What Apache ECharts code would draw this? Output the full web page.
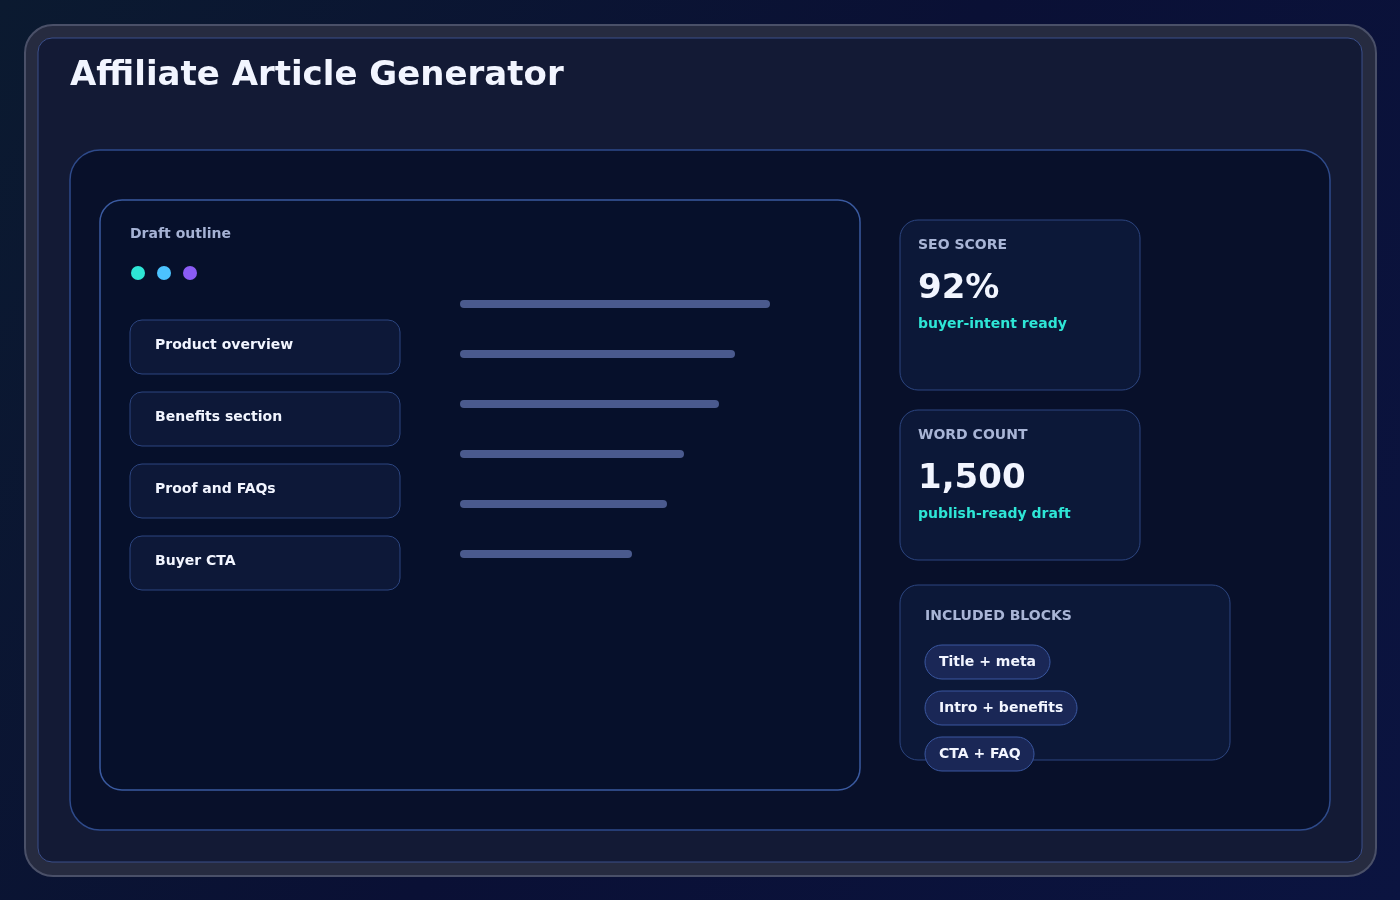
<!DOCTYPE html>
<html><head><meta charset="utf-8">
<script src="https://cdn.jsdelivr.net/npm/echarts@6/dist/echarts.min.js"></script>
<style>html,body{margin:0;padding:0;background:#0a1030}#c{width:1400px;height:900px}</style>
</head><body><div id="c"></div>
<script>
const title = "Affiliate Article Generator";
const outlineLabel = "Draft outline";
const sections = ["Product overview","Benefits section","Proof and FAQs","Buyer CTA"];
const lineCategories = ["l1","l2","l3","l4","l5","l6"];
const lineValues = [310,275,259,224,207,172];
const seoLabel = "SEO SCORE", seoValue = "92%", seoNote = "buyer-intent ready";
const wcLabel = "WORD COUNT", wcValue = "1,500", wcNote = "publish-ready draft";
const blocksLabel = "INCLUDED BLOCKS";
const blocks = ["Title + meta","Intro + benefits","CTA + FAQ"];
const blockWidths = [125,152,109];

const F = "DejaVu Sans";
const g = [];
function rect(x,y,w,h,r,fill,stroke,lw){g.push({type:'rect',shape:{x,y,width:w,height:h,r},style:{fill,stroke,lineWidth:lw||1}});}
function text(x,y,t,size,color,weight){g.push({type:'text',x,y,style:{text:t,fill:color,font:(weight||'bold')+' '+size+'px "'+F+'"',textVerticalAlign:'middle'}});}

g.push({type:'rect',shape:{x:0,y:0,width:1400,height:900},style:{fill:new echarts.graphic.LinearGradient(0,0,1,1,[{offset:0,color:'#0b1a30'},{offset:0.5,color:'#0a1035'},{offset:1,color:'#0b1440'}])}});
rect(25,25,1351,851,28,'#262b40','#4a5068',2);
rect(38,38,1324,824,14,'#131a35','#3b4f8a',1);
text(70,76,title,34,'#f2f5ff','bold');
rect(70,150,1260,680,30,'#08102a','#2e4a8a',1.5);
rect(100,200,760,590,22,'#06102b','#3a5aa0',1.5);
text(130,234,outlineLabel,14,'#a5b2d4','bold');
[['#2ee6d6',138],['#4cc3ff',164],['#8b5cf6',190]].forEach(([c,x])=>g.push({type:'circle',shape:{cx:x,cy:273,r:7},style:{fill:c}}));
sections.forEach((s,i)=>{const y=320+i*72;rect(130,y,270,54,12,'#0d1838','#2c4580',1);text(155,y+25,s,14,'#f2f5ff','bold');});

rect(900,220,240,170,18,'#0c1838','#2c4580',1);
text(918,245,seoLabel,14,'#a9b5d6','bold');
text(918,289,seoValue,34,'#f2f5ff','bold');
text(918,324,seoNote,14,'#2ee6d6','bold');
rect(900,410,240,150,18,'#0c1838','#2c4580',1);
text(918,435,wcLabel,14,'#a9b5d6','bold');
text(918,479,wcValue,34,'#f2f5ff','bold');
text(918,514,wcNote,14,'#2ee6d6','bold');
rect(900,585,330,175,18,'#0c1838','#2c4580',1);
text(925,616,blocksLabel,14,'#a9b5d6','bold');
blocks.forEach((b,i)=>{const y=645+i*46;rect(925,y,blockWidths[i],34,17,'#1a2756','#3a57a0',1);text(939,y+17,b,14,'#f2f5ff','bold');});

const chart = echarts.init(document.getElementById('c'));
chart.setOption({
  animation:false,
  graphic:{elements:g},
  grid:{left:460,top:279,width:400,height:300},
  xAxis:{type:'value',min:0,max:400,show:false},
  yAxis:{type:'category',data:lineCategories,inverse:true,show:false},
  series:[{type:'bar',data:lineValues,barWidth:8,itemStyle:{color:'#4a5a8e',borderRadius:4},z:10}]
});
</script></body></html>
